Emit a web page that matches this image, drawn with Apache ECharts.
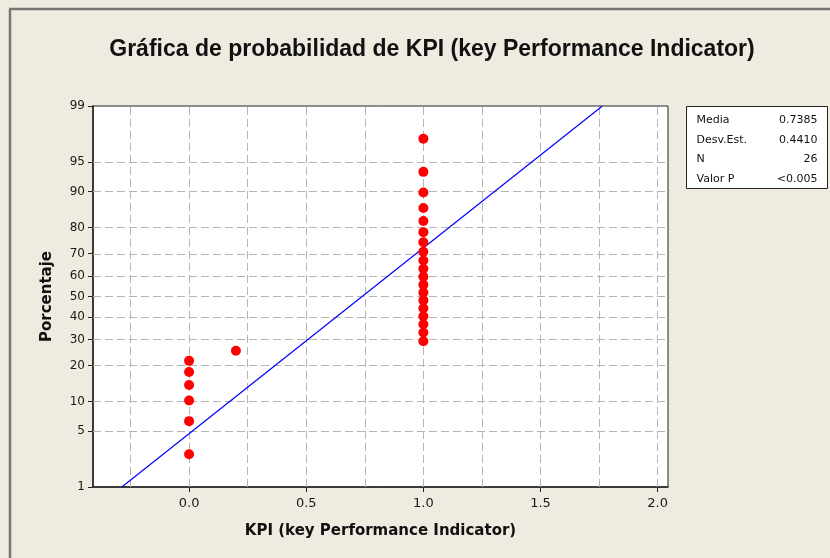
<!DOCTYPE html>
<html>
<head>
<meta charset="utf-8">
<script src="https://cdn.jsdelivr.net/npm/echarts@6/dist/echarts.min.js"></script>
<style>
  html, body { margin: 0; padding: 0; background: #EFEBE1; }
  #main { width: 830px; height: 558px; }
</style>
</head>
<body>
<div id="main"></div>
<script>
// datos
var kpiValues = [0, 0, 0, 0, 0, 0, 0.2, 1, 1, 1, 1, 1, 1, 1, 1, 1, 1, 1, 1, 1, 1, 1, 1, 1, 1, 1];
var pctValues = [2.7, 6.4, 10.2, 14.0, 17.8, 21.6, 25.4, 29.2, 33.0, 36.7, 40.5, 44.3, 48.1,
                 51.9, 55.7, 59.5, 63.3, 67.0, 70.8, 74.6, 78.4, 82.2, 86.0, 89.8, 93.6, 97.3];
// recta ajustada (extremos)
var fitX = [-0.287, 1.764];
var fitPct = [1, 99];
// ejes
var yTickPct = [1, 5, 10, 20, 30, 40, 50, 60, 70, 80, 90, 95, 99];
var yGridPct = [5, 10, 20, 30, 40, 50, 60, 70, 80, 90, 95];
var xTicks = [0, 0.5, 1, 1.5, 2];
var xGrid = [-0.25, 0, 0.25, 0.5, 0.75, 1, 1.25, 1.5, 1.75, 2];
// tabla de estadisticos
var statNames = ["Media", "Desv.Est.", "N", "Valor P"];
var statValues = ["0.7385", "0.4410", "26", "<0.005"];

// inversa de la normal (Acklam)
function probit(p) {
  var a = [-39.69683028665376, 220.9460984245205, -275.9285104469687, 138.3577518672690, -30.66479806614716, 2.506628277459239];
  var b = [-54.47609879822406, 161.5858368580409, -155.6989798598866, 66.80131188771972, -13.28068155288572];
  var c = [-0.007784894002430293, -0.3223964580411365, -2.400758277161838, -2.549732539343734, 4.374664141464968, 2.938163982698783];
  var d = [0.007784695709041462, 0.3224671290700398, 2.445134137142996, 3.754408661907416];
  var pl = 0.02425, q, r;
  if (p < pl) {
    q = Math.sqrt(-2 * Math.log(p));
    return (((((c[0]*q+c[1])*q+c[2])*q+c[3])*q+c[4])*q+c[5]) / ((((d[0]*q+d[1])*q+d[2])*q+d[3])*q+1);
  }
  if (p > 1 - pl) {
    q = Math.sqrt(-2 * Math.log(1 - p));
    return -(((((c[0]*q+c[1])*q+c[2])*q+c[3])*q+c[4])*q+c[5]) / ((((d[0]*q+d[1])*q+d[2])*q+d[3])*q+1);
  }
  q = p - 0.5; r = q * q;
  return (((((a[0]*r+a[1])*r+a[2])*r+a[3])*r+a[4])*r+a[5])*q / (((((b[0]*r+b[1])*r+b[2])*r+b[3])*r+b[4])*r+1);
}
function z(pct) { return probit(pct / 100); }

var yTickZ = yTickPct.map(z);
function pctLabel(v) {
  var best = 0;
  for (var i = 1; i < yTickZ.length; i++) {
    if (Math.abs(yTickZ[i] - v) < Math.abs(yTickZ[best] - v)) best = i;
  }
  return String(yTickPct[best]);
}

var gridStyle = { color: '#B5B5B5', width: 1, type: [8, 4] };
var gridLines = yGridPct.map(function (p) { return { yAxis: z(p) }; })
  .concat(xGrid.map(function (x) { return { xAxis: x }; }));

var chart = echarts.init(document.getElementById('main'));
var option = {
  backgroundColor: '#EFEBE1',
  animation: false,
  textStyle: { fontFamily: 'DejaVu Sans' },
  title: {
    text: 'Gráfica de probabilidad de KPI (key Performance Indicator)',
    left: 427, top: 33, textAlign: 'center',
    textStyle: { fontFamily: 'Liberation Sans', fontWeight: 'bold', fontSize: 23, color: '#111' }
  },
  grid: {
    left: 93, right: 162, top: 106, bottom: 71,
    show: true, backgroundColor: '#fff', borderColor: '#222', borderWidth: 1
  },
  xAxis: {
    type: 'value', min: -0.41, max: 2.044,
    name: 'KPI (key Performance Indicator)',
    nameLocation: 'middle', nameGap: 37,
    nameTextStyle: { fontFamily: 'DejaVu Sans', fontWeight: 'bold', fontSize: 15, color: '#111' },
    axisLine: { onZero: false, lineStyle: { color: '#222', width: 1.5 } },
    axisTick: { customValues: xTicks, length: 5, lineStyle: { color: '#222' } },
    axisLabel: {
      customValues: xTicks, color: '#1a1a1a', fontSize: 13, margin: 10,
      formatter: function (v) { return v.toFixed(1); }
    },
    splitLine: { show: false }
  },
  yAxis: {
    type: 'value', min: z(1), max: z(99),
    name: 'Porcentaje',
    nameLocation: 'middle', nameGap: 38,
    nameTextStyle: { fontFamily: 'DejaVu Sans', fontWeight: 'bold', fontSize: 15, color: '#111' },
    axisLine: { show: true, onZero: false, lineStyle: { color: '#222', width: 1.5 } },
    axisTick: { customValues: yTickZ, length: 5, lineStyle: { color: '#222' } },
    axisLabel: { customValues: yTickZ, color: '#1a1a1a', fontSize: 12, margin: 8, formatter: pctLabel },
    splitLine: { show: false }
  },
  series: [
    {
      type: 'line', z: 2, symbol: 'none',
      data: fitX.map(function (x, i) { return [x, z(fitPct[i])]; }),
      lineStyle: { color: '#0000FF', width: 1.2 },
      markLine: {
        silent: true, z: 1, symbol: 'none', label: { show: false },
        lineStyle: gridStyle, data: gridLines
      }
    },
    {
      type: 'scatter', z: 3, symbol: 'circle', symbolSize: 10,
      itemStyle: { color: '#FF0000', opacity: 1 },
      data: kpiValues.map(function (x, i) { return [x, z(pctValues[i])]; })
    }
  ],
  graphic: [
    { type: 'line', shape: { x1: 10, y1: 9, x2: 10, y2: 558 }, style: { stroke: '#767676', lineWidth: 2.5 } },
    { type: 'line', shape: { x1: 9, y1: 9, x2: 830, y2: 9 }, style: { stroke: '#767676', lineWidth: 2.5 } },
    {
      type: 'group', left: 686, top: 106,
      children: [
        { type: 'rect', shape: { x: 0, y: 0, width: 141, height: 82 }, style: { fill: '#fff', stroke: '#222', lineWidth: 1 } }
      ].concat(statNames.map(function (n, i) {
        return { type: 'text', x: 10, y: 14 + i * 19.5,
          style: { text: n, fill: '#111', font: '11px "DejaVu Sans"', textVerticalAlign: 'middle' } };
      })).concat(statValues.map(function (v, i) {
        return { type: 'text', x: 131, y: 14 + i * 19.5,
          style: { text: v, fill: '#111', font: '11px "DejaVu Sans"', textAlign: 'right', textVerticalAlign: 'middle' } };
      }))
    }
  ]
};
chart.setOption(option);
</script>
</body>
</html>
